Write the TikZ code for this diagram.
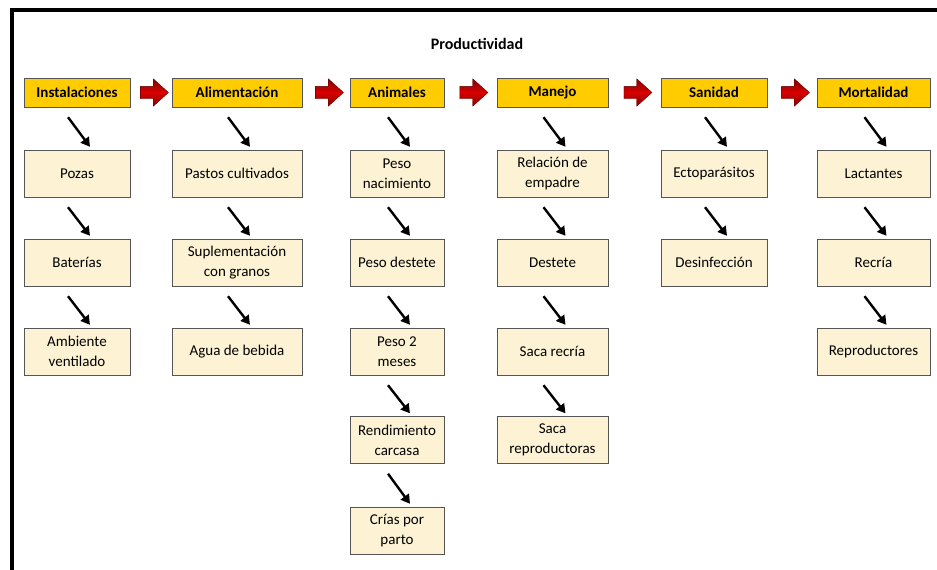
\documentclass[tikz,border=0pt]{standalone}
\usepackage{fontspec}
\setmainfont{Carlito}
\usetikzlibrary{arrows.meta,shapes.arrows,calc}
\definecolor{gold}{HTML}{FFCC00}
\definecolor{cream}{HTML}{FDF3D4}
\definecolor{edge}{HTML}{555555}
\definecolor{darkred}{HTML}{A50000}

\begin{document}
\begin{tikzpicture}[x=1pt,y=-1pt,
    every node/.style={font=\fontsize{15}{20}\selectfont},
    head/.style={draw=edge, fill=gold, minimum height=29pt, inner sep=0pt,
      font=\fontsize{15}{20}\selectfont\bfseries},
    item/.style={draw=edge, fill=cream, minimum height=47pt, inner sep=0pt, align=center},
    down/.style={line width=2.4pt, -{Triangle[length=9pt,width=10pt]}},
    redarrow/.style={single arrow, draw=darkred!60!black, shading=axis,
      top color=darkred!80!black, bottom color=darkred!80!black, middle color=red!85!black,
      minimum height=28pt, inner xsep=0pt, inner ysep=6pt, text height=0pt, text depth=0pt,
      single arrow head extend=7.5pt, single arrow tip angle=84}]
    \useasboundingbox (0,0) rectangle (937,570);
    \draw[line width=3.2pt] (12,570) -- (12,10) -- (937,10);

    \node[font=\fontsize{16}{20}\selectfont\bfseries] (title) at (477,44) {Productividad};

    % header row
    \foreach \n/\x/\w/\t in {ins/77/106/Instalaciones, ali/237/130/Alimentación,
        ani/397/94/Animales, man/552.5/111/Manejo, san/714/106/Sanidad, mor/873.5/113/Mortalidad} {
        \node[head, minimum width=\w pt] (\n) at (\x,92.5) {\t};
    };

    % boxes under each header
    \foreach \n/\x/\w/\y/\t in {
        ins1/77/106/173.5/Pozas, ins2/77/106/262.5/Baterías, ins3/77/106/351.5/{Ambiente\\ventilado},
        ali1/237/130/173.5/Pastos cultivados, ali2/237/130/262.5/{Suplementación\\con granos},
        ali3/237/130/351.5/Agua de bebida,
        ani1/397/94/173.5/{Peso\\nacimiento}, ani2/397/94/262.5/Peso destete, ani3/397/94/351.5/{Peso 2\\meses},
        ani4/397/94/440/{Rendimiento\\carcasa}, ani5/397/94/530.5/{Crías por\\parto},
        man1/552.5/111/173.5/{Relación de\\empadre}, man2/552.5/111/262.5/Destete,
        man3/552.5/111/351.5/Saca recría, man4/552.5/111/440/{Saca\\reproductoras},
        san1/714/106/173.5/Ectoparásitos, san2/714/106/262.5/Desinfección,
        mor1/873.5/113/173.5/Lactantes, mor2/873.5/113/262.5/Recría, mor3/873.5/113/351.5/Reproductores} {
        \node[item, minimum width=\w pt] (\n) at (\x,\y) {\t};
    };

    % black arrows down the columns
    \foreach \a/\b in {ins/ins1, ins1/ins2, ins2/ins3, ali/ali1, ali1/ali2, ali2/ali3,
        ani/ani1, ani1/ani2, ani2/ani3, ani3/ani4, ani4/ani5,
        man/man1, man1/man2, man2/man3, man3/man4, san/san1, san1/san2,
        mor/mor1, mor1/mor2, mor2/mor3} {
        \draw[down] ($(\a.south)+(-9,10)$) -- ($(\b.north)+(13,-3)$);
    };

    % red arrows between headers
    \foreach \a/\b in {ins/ali, ali/ani, ani/man, man/san, san/mor} {
        \node[redarrow] (\a-\b) at ($(\a.east)!0.5!(\b.west)$) {};
    };
\end{tikzpicture}
\end{document}
